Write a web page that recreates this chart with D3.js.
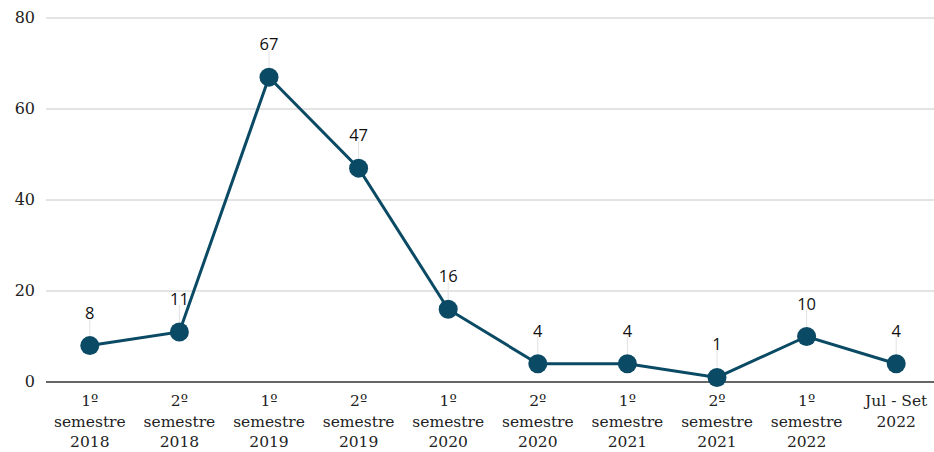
<!DOCTYPE html>
<html><head><meta charset="utf-8">
<script src="https://cdn.jsdelivr.net/npm/d3@7"></script>
<style>body{margin:0;background:#fff}</style>
</head><body>
<svg id="c" width="934" height="452"></svg>
<script>
const categories = [["1º","semestre","2018"],["2º","semestre","2018"],["1º","semestre","2019"],["2º","semestre","2019"],["1º","semestre","2020"],["2º","semestre","2020"],["1º","semestre","2021"],["2º","semestre","2021"],["1º","semestre","2022"],["Jul - Set","2022"]];
const values = [8,11,67,47,16,4,4,1,10,4];
const yTicks = [0,20,40,60,80];

const svg = d3.select("#c");
const keys = categories.map((c,i)=>i);
const x = d3.scaleBand().domain(keys).range([45,941]);
const y = d3.scaleLinear().domain([0,80]).range([382,18]);
const serif = "'DejaVu Serif', 'Liberation Serif', serif";
const sans = "'Open Sans', 'Noto Sans', sans-serif";

// grid
svg.append("g").selectAll("line").data(yTicks.filter(d=>d>0)).join("line")
  .attr("x1",46).attr("x2",934).attr("y1",d=>y(d)).attr("y2",d=>y(d))
  .attr("stroke","#c8c8c8").attr("stroke-width",1);
svg.append("g").selectAll("text").data(yTicks).join("text")
  .attr("x",35).attr("y",d=>y(d)+5).attr("text-anchor","end")
  .attr("font-family",serif).attr("font-size",16).attr("fill","#222").text(d=>d);
svg.append("line").attr("x1",46).attr("x2",934).attr("y1",y(0)).attr("y2",y(0))
  .attr("stroke","#333").attr("stroke-width",1.3);

// x labels
const xl = svg.append("g").selectAll("text").data(categories).join("text")
  .attr("text-anchor","middle").attr("font-family",serif).attr("font-size",15.5).attr("fill","#222")
  .attr("transform",(d,i)=>`translate(${x(i)+x.bandwidth()/2},0)`);
xl.each(function(d){
  const t = d3.select(this);
  d.forEach((s,j)=>t.append("tspan").attr("x",0).attr("y",406+j*20.5).text(s));
});

const cx = i=>x(i)+x.bandwidth()/2;
// connectors
svg.append("g").selectAll("line").data(values).join("line")
  .attr("x1",(d,i)=>cx(i)).attr("x2",(d,i)=>cx(i))
  .attr("y1",d=>y(d)-10).attr("y2",d=>y(d)-27)
  .attr("stroke","#e2e2e2").attr("stroke-width",1);
// line
svg.append("path").datum(values)
  .attr("d",d3.line().x((d,i)=>cx(i)).y(d=>y(d)))
  .attr("fill","none").attr("stroke","#0b4a64").attr("stroke-width",3);
svg.append("g").selectAll("circle").data(values).join("circle")
  .attr("cx",(d,i)=>cx(i)).attr("cy",d=>y(d)).attr("r",9.5).attr("fill","#0b4a64");
// value labels
svg.append("g").selectAll("text").data(values).join("text")
  .attr("x",(d,i)=>cx(i)).attr("y",d=>y(d)-27).attr("text-anchor","middle")
  .attr("font-family",sans).attr("font-size",16.5).attr("fill","#111").text(d=>d);
</script>
</body></html>
